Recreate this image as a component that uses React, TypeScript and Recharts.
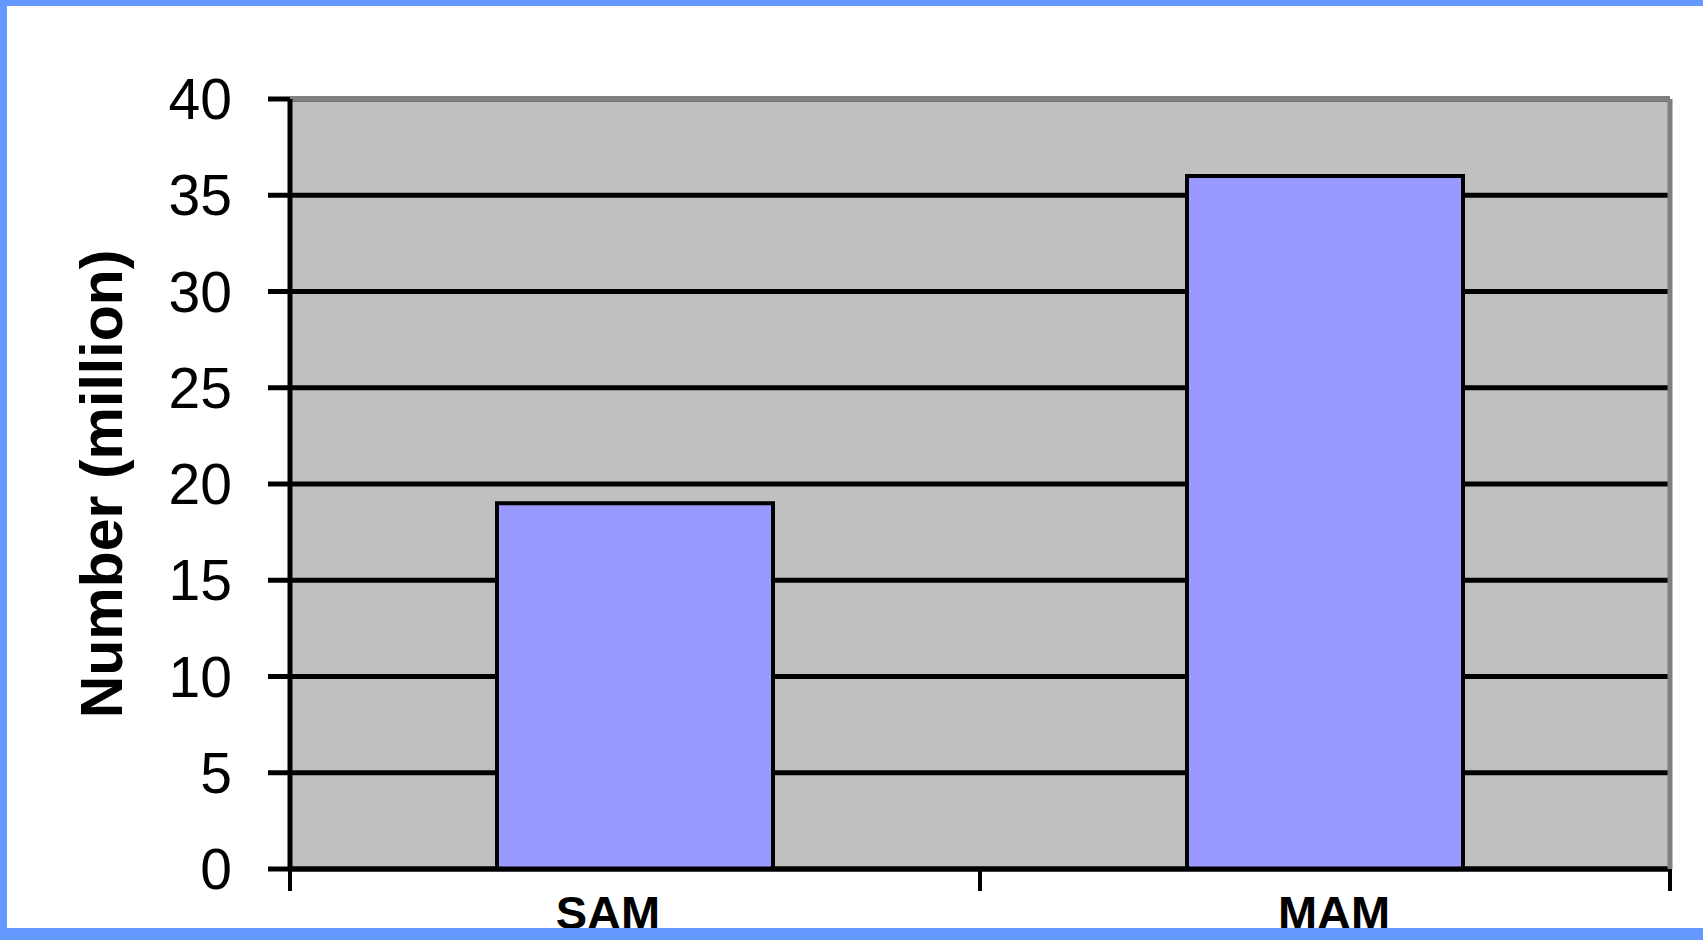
import { BarChart, Bar, XAxis, YAxis, CartesianGrid, Label } from "recharts";

const categories = ["SAM", "MAM"];
const numbers = [19, 36];
const yTicks = [0, 5, 10, 15, 20, 25, 30, 35, 40];

const data = categories.map((name, i) => ({ name, value: numbers[i] }));

const FONT = "'Liberation Sans', Arial, sans-serif";
// the original labels are not quite centred under their bars
const LABEL_DX: Record<string, number> = { SAM: -27, MAM: 9 };
const TICK_GAP = 26;

// category label near the band centre, tick marks at the band edges
function CategoryTick(props: any) {
  const { x, y, payload } = props;
  const half = payload.offset ?? 0;
  const top = y - TICK_GAP;
  return (
    <g>
      <line x1={x - half} x2={x - half} y1={top} y2={top + 22} stroke="#000000" strokeWidth={4} />
      <line x1={x + half} x2={x + half} y1={top} y2={top + 22} stroke="#000000" strokeWidth={4} />
      <text
        x={x + (LABEL_DX[payload.value] ?? 0)}
        y={y}
        dy="0.72em"
        textAnchor="middle"
        fill="#000000"
        fontSize={47}
        fontWeight="bold"
        fontFamily={FONT}
      >
        {payload.value}
      </text>
    </g>
  );
}

export default function App() {
  return (
    <div
      style={{
        position: "fixed",
        left: 0,
        top: 0,
        width: 1703,
        height: 940,
        background: "#ffffff",
        fontFamily: FONT,
      }}
    >
      <BarChart
        width={1703}
        height={940}
        data={data}
        margin={{ top: 0, right: 0, bottom: 0, left: 0 }}
        barCategoryGap="30%"
      >
        <CartesianGrid
          vertical={false}
          stroke="#000000"
          strokeWidth={5}
          fill="#C0C0C0"
          fillOpacity={1}
          xAxisId="cat"
          yAxisId="left"
        />
        <XAxis
          xAxisId="cat"
          dataKey="name"
          height={71}
          axisLine={{ stroke: "#000000", strokeWidth: 5 }}
          tickLine={false}
          tickSize={0}
          tickMargin={TICK_GAP}
          tick={<CategoryTick />}
        />
        <XAxis
          xAxisId="top"
          dataKey="name"
          orientation="top"
          height={99}
          axisLine={{ stroke: "#808080", strokeWidth: 5 }}
          tickLine={false}
          tick={false}
        />
        <YAxis
          yAxisId="left"
          width={290}
          domain={[0, 40]}
          ticks={yTicks}
          interval={0}
          axisLine={{ stroke: "#000000", strokeWidth: 5 }}
          tickSize={22}
          tickMargin={36}
          tickLine={{ stroke: "#000000", strokeWidth: 5 }}
          tick={{ fill: "#000000", fontSize: 57, fontFamily: FONT }}
        >
          <Label
            content={({ viewBox }: any) => {
              const cy = viewBox.y + viewBox.height / 2;
              const x = 122;
              return (
                <text
                  x={x}
                  y={cy}
                  transform={`rotate(-90, ${x}, ${cy})`}
                  textAnchor="middle"
                  fontSize={59}
                  fontWeight="bold"
                  fontFamily={FONT}
                  fill="#000000"
                >
                  Number (million)
                </text>
              );
            }}
          />
        </YAxis>
        <YAxis
          yAxisId="right"
          orientation="right"
          width={33}
          domain={[0, 40]}
          axisLine={{ stroke: "#808080", strokeWidth: 5 }}
          tickLine={false}
          tick={false}
        />
        <Bar
          dataKey="value"
          xAxisId="cat"
          yAxisId="left"
          fill="#9999FF"
          stroke="#000000"
          strokeWidth={4}
          isAnimationActive={false}
        />
      </BarChart>
      {/* blue frame of the slide, drawn over the chart so it hides the lower part of the labels */}
      <div
        style={{
          position: "absolute",
          left: 0,
          top: 0,
          width: 1703,
          height: 940,
          boxSizing: "border-box",
          borderTop: "6px solid #6699FF",
          borderLeft: "7px solid #6699FF",
          borderBottom: "12px solid #6699FF",
          pointerEvents: "none",
        }}
      />
    </div>
  );
}
